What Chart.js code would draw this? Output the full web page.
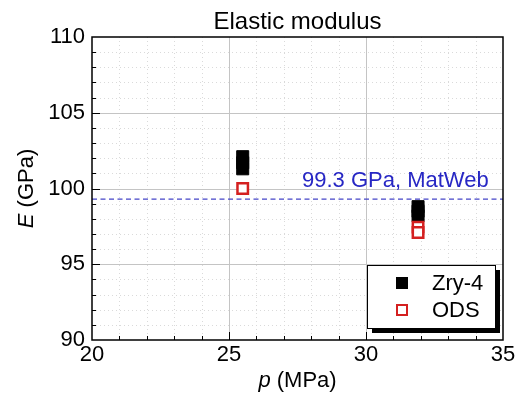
<!DOCTYPE html>
<html>
<head>
<meta charset="utf-8">
<title>Elastic modulus</title>
<script src="https://cdn.jsdelivr.net/npm/chart.js@4.4.1/dist/chart.umd.min.js"></script>
<style>
  html, body { margin: 0; padding: 0; background: #fff; }
  #wrap { width: 521px; height: 397px; }
</style>
</head>
<body>
<div id="wrap"><canvas id="chart" width="521" height="397"></canvas></div>
<script>
// Datos
const zryP = [25.5, 25.5, 25.5, 31.9, 31.9, 31.9];
const zryE = [102.1, 101.7, 101.3, 98.8, 98.5, 98.2];
const odsP = [25.5, 31.9, 31.9];
const odsE = [100.0, 97.45, 97.1];
const matwebE = 99.3;
const xRange = [20, 35];
const yRange = [90, 110];
const seriesNames = ['Zry-4', 'ODS'];
const refLabel = '99.3 GPa, MatWeb';
const chartTitle = 'Elastic modulus';

const FONT = "'Liberation Sans', Arial, sans-serif";

/**
 * Convierte dos arreglos en puntos {x, y}.
 */
function toPoints(xs, ys) {
    return xs.map((v, i) => ({ x: v, y: ys[i] }));
}

function line(ctx, x1, y1, x2, y2) {
    ctx.beginPath();
    ctx.moveTo(x1, y1);
    ctx.lineTo(x2, y2);
    ctx.stroke();
}

// Texto con una parte en cursiva (p. ej. "E" + " (GPa)")
function mixedText(ctx, italicPart, rest, size, cx, cy) {
    ctx.font = `italic ${size}px ${FONT}`;
    const w1 = ctx.measureText(italicPart).width;
    ctx.font = `${size}px ${FONT}`;
    const w2 = ctx.measureText(rest).width;
    let x0 = cx - (w1 + w2) / 2;
    ctx.textAlign = 'left';
    ctx.textBaseline = 'middle';
    ctx.font = `italic ${size}px ${FONT}`;
    ctx.fillText(italicPart, x0, cy);
    ctx.font = `${size}px ${FONT}`;
    ctx.fillText(rest, x0 + w1, cy);
}

const decor = {
    id: 'decor',
    beforeDatasetsDraw(chart) {
        const { ctx, chartArea: a, scales: { x, y } } = chart;
        ctx.save();
        ctx.lineWidth = 1;

        // rejilla menor punteada
        ctx.strokeStyle = '#dadada';
        ctx.setLineDash([1, 3]);
        for (let v = xRange[0] + 1; v < xRange[1]; v++) {
            if (v % 5 === 0) continue;
            const px = Math.round(x.getPixelForValue(v)) + 0.5;
            line(ctx, px, a.top, px, a.bottom);
        }
        for (let v = yRange[0] + 1; v < yRange[1]; v++) {
            if (v % 5 === 0) continue;
            const py = Math.round(y.getPixelForValue(v)) + 0.5;
            line(ctx, a.left, py, a.right, py);
        }

        // rejilla mayor
        ctx.setLineDash([]);
        ctx.strokeStyle = '#c4c4c4';
        for (let v = xRange[0] + 5; v < xRange[1]; v += 5) {
            const px = Math.round(x.getPixelForValue(v)) + 0.5;
            line(ctx, px, a.top, px, a.bottom);
        }
        for (let v = yRange[0] + 5; v < yRange[1]; v += 5) {
            const py = Math.round(y.getPixelForValue(v)) + 0.5;
            line(ctx, a.left, py, a.right, py);
        }
        ctx.restore();
    },
    afterDraw(chart) {
        const { ctx, chartArea: a, scales: { x, y } } = chart;
        ctx.save();

        // marco
        ctx.strokeStyle = '#000';
        ctx.lineWidth = 1.5;
        ctx.strokeRect(a.left, a.top, a.width, a.height);

        // marcas hacia dentro
        ctx.lineWidth = 1;
        for (let v = xRange[0] + 1; v < xRange[1]; v++) {
            const len = v % 5 === 0 ? 8 : 4;
            const px = Math.round(x.getPixelForValue(v)) + 0.5;
            line(ctx, px, a.bottom, px, a.bottom - len);
        }
        for (let v = yRange[0] + 1; v < yRange[1]; v++) {
            const len = v % 5 === 0 ? 8 : 4;
            const py = Math.round(y.getPixelForValue(v)) + 0.5;
            line(ctx, a.left, py, a.left + len, py);
        }

        // título
        ctx.fillStyle = '#000';
        ctx.font = `24px ${FONT}`;
        ctx.textAlign = 'center';
        ctx.textBaseline = 'alphabetic';
        ctx.fillText(chartTitle, (a.left + a.right) / 2, 29);

        // títulos de ejes
        mixedText(ctx, 'p', ' (MPa)', 22, (a.left + a.right) / 2, 381);
        ctx.save();
        ctx.translate(27, (a.top + a.bottom) / 2);
        ctx.rotate(-Math.PI / 2);
        mixedText(ctx, 'E', ' (GPa)', 22, 0, 0);
        ctx.restore();

        // etiqueta de la línea de referencia
        ctx.fillStyle = '#2727c4';
        ctx.font = `22px ${FONT}`;
        ctx.textAlign = 'left';
        ctx.textBaseline = 'alphabetic';
        ctx.fillText(refLabel, a.left + 210, y.getPixelForValue(matwebE) - 12);

        // leyenda con sombra
        const lx = a.right - 136, ly = a.top + 228, lw = 128, lh = 63;
        ctx.fillStyle = '#000';
        ctx.fillRect(lx + 5, ly + 5, lw, lh);
        ctx.fillStyle = '#fff';
        ctx.fillRect(lx, ly, lw, lh);
        ctx.strokeStyle = '#000';
        ctx.lineWidth = 1;
        ctx.strokeRect(lx + 0.5, ly + 0.5, lw, lh);

        const mx = lx + 35;
        ctx.fillStyle = '#000';
        ctx.fillRect(mx - 6, ly + 18 - 6, 12, 12);
        ctx.strokeStyle = '#d42020';
        ctx.lineWidth = 2;
        ctx.strokeRect(mx - 5, ly + 45 - 5, 10, 10);

        ctx.fillStyle = '#000';
        ctx.font = `22px ${FONT}`;
        ctx.textBaseline = 'middle';
        ctx.fillText(seriesNames[0], lx + 65, ly + 19);
        ctx.fillText(seriesNames[1], lx + 65, ly + 46);

        ctx.restore();
    }
};

const ctx = document.getElementById('chart').getContext('2d');

new Chart(ctx, {
    type: 'scatter',
    data: {
        datasets: [
            {
                label: seriesNames[1],
                data: toPoints(odsP, odsE),
                pointStyle: 'rect',
                pointRadius: 7.4,
                backgroundColor: '#ffffff',
                borderColor: '#d42020',
                borderWidth: 2.5,
                order: 1
            },
            {
                label: seriesNames[0],
                data: toPoints(zryP, zryE),
                pointStyle: 'rect',
                pointRadius: 8.5,
                backgroundColor: '#000000',
                borderColor: '#000000',
                borderWidth: 1,
                order: 2
            },
            {
                label: 'MatWeb',
                data: toPoints(xRange, [matwebE, matwebE]),
                showLine: true,
                pointRadius: 0,
                borderColor: '#4545c8',
                borderWidth: 1.3,
                borderDash: [5, 3.5],
                order: 3
            }
        ]
    },
    options: {
        responsive: false,
        devicePixelRatio: 1,
        animation: false,
        layout: { padding: { top: 37, right: 18, left: 0, bottom: 0 } },
        plugins: {
            legend: { display: false },
            title: { display: false },
            tooltip: { enabled: false }
        },
        scales: {
            x: {
                type: 'linear',
                min: xRange[0],
                max: xRange[1],
                grid: { display: false, drawTicks: false },
                border: { display: false },
                ticks: {
                    stepSize: 5,
                    padding: 2,
                    color: '#000',
                    font: { family: FONT, size: 22 }
                },
                afterFit(scale) { scale.height = 57; }
            },
            y: {
                type: 'linear',
                min: yRange[0],
                max: yRange[1],
                grid: { display: false, drawTicks: false },
                border: { display: false },
                ticks: {
                    stepSize: 5,
                    padding: 7,
                    color: '#000',
                    font: { family: FONT, size: 22 }
                },
                afterFit(scale) { scale.width = 92; }
            }
        }
    },
    plugins: [decor]
});
</script>
</body>
</html>
